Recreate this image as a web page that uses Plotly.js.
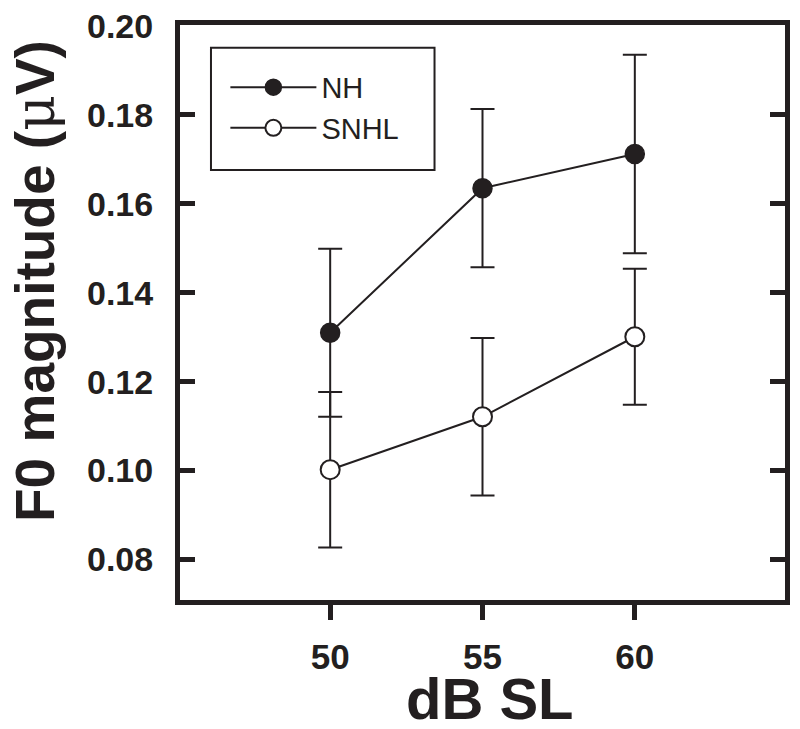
<!DOCTYPE html>
<html>
<head>
<meta charset="utf-8">
<script src="https://cdn.plot.ly/plotly-3.0.1.min.js"></script>
<style>html,body{margin:0;padding:0;background:#fff;}#chart{width:800px;height:729px;}</style>
</head>
<body>
<div id="chart"></div>
<script>
// Data
const levels = [50, 55, 60];               // dB SL
const nhMean = [0.131, 0.1635, 0.1712];    // F0 magnitude (µV), NH
const nhErr  = [0.0189, 0.0178, 0.0223];
const snhlMean = [0.1002, 0.1121, 0.1301]; // SNHL
const snhlErr  = [0.0175, 0.0177, 0.0153];
const yTicks = [0.08, 0.10, 0.12, 0.14, 0.16, 0.18, 0.20];
const xTicks = [50, 55, 60];

const ink = '#231f20';
const font = 'Liberation Sans, Arial, Helvetica, sans-serif';

const traces = [
  {
    x: levels, y: nhMean, name: 'NH', type: 'scatter', mode: 'lines+markers',
    line: {color: ink, width: 2},
    marker: {symbol: 'circle', size: 19, color: ink, line: {color: ink, width: 1.5}},
    error_y: {type: 'data', array: nhErr, visible: true, color: ink, thickness: 2, width: 12}
  },
  {
    x: levels, y: snhlMean, name: 'SNHL', type: 'scatter', mode: 'lines+markers',
    line: {color: ink, width: 2},
    marker: {symbol: 'circle', size: 19, color: '#ffffff', line: {color: ink, width: 2}},
    error_y: {type: 'data', array: snhlErr, visible: true, color: ink, thickness: 2, width: 12}
  }
];

const layout = {
  width: 800, height: 729,
  margin: {l: 180, r: 15, t: 25, b: 129},
  paper_bgcolor: '#ffffff', plot_bgcolor: '#ffffff',
  font: {family: font, color: ink},
  showlegend: true,
  legend: {
    x: 0.075, y: 0.936, xanchor: 'left', yanchor: 'top',
    bgcolor: 'rgba(0,0,0,0)', borderwidth: 0,
    font: {family: font, size: 29, color: ink},
    itemwidth: 86, tracegroupgap: 0
  },
  shapes: [{
    type: 'rect', xref: 'paper', yref: 'paper',
    x0: 0.0512, x1: 0.4207, y0: 0.7478, y1: 0.9604,
    line: {color: ink, width: 2}, fillcolor: 'rgba(0,0,0,0)'
  }],
  annotations: [
    {
      text: '<b>F0 magnitude (</b><span style="font-family:DejaVu Serif">μ</span><b>V)</b>',
      xref: 'paper', yref: 'paper', x: -0.2397, y: 0.5548,
      xanchor: 'center', yanchor: 'middle', textangle: -90, showarrow: false,
      font: {family: font, size: 55, color: ink}
    },
    {
      text: '<b>dB SL</b>',
      xref: 'paper', yref: 'paper', x: 0.5124, y: -0.170,
      xanchor: 'center', yanchor: 'middle', showarrow: false,
      height: 48, valign: 'middle',
      font: {family: font, size: 58, color: ink}
    }
  ],
  xaxis: {
    range: [45.07, 64.93],
    tickmode: 'array', tickvals: xTicks, ticktext: xTicks.map(String),
    ticks: 'outside', ticklen: 15, tickwidth: 5, tickcolor: ink,
    showline: true, linewidth: 5, linecolor: ink, mirror: true,
    showgrid: false, zeroline: false,
    ticklabelstandoff: 7,
    tickfont: {family: font, size: 35, color: ink, weight: 'bold'}
  },
  yaxis: {
    range: [0.0709, 0.2002],
    tickmode: 'array', tickvals: yTicks, ticktext: yTicks.map(v => v.toFixed(2)),
    ticks: 'inside', ticklen: 15, tickwidth: 5, tickcolor: ink,
    showline: true, linewidth: 5, linecolor: ink, mirror: 'ticks',
    showgrid: false, zeroline: false,
    ticklabelstandoff: 15,
    tickfont: {family: font, size: 34, color: ink, weight: 'bold'}
  }
};

Plotly.newPlot('chart', traces, layout, {displayModeBar: false, staticPlot: true});
</script>
</body>
</html>
